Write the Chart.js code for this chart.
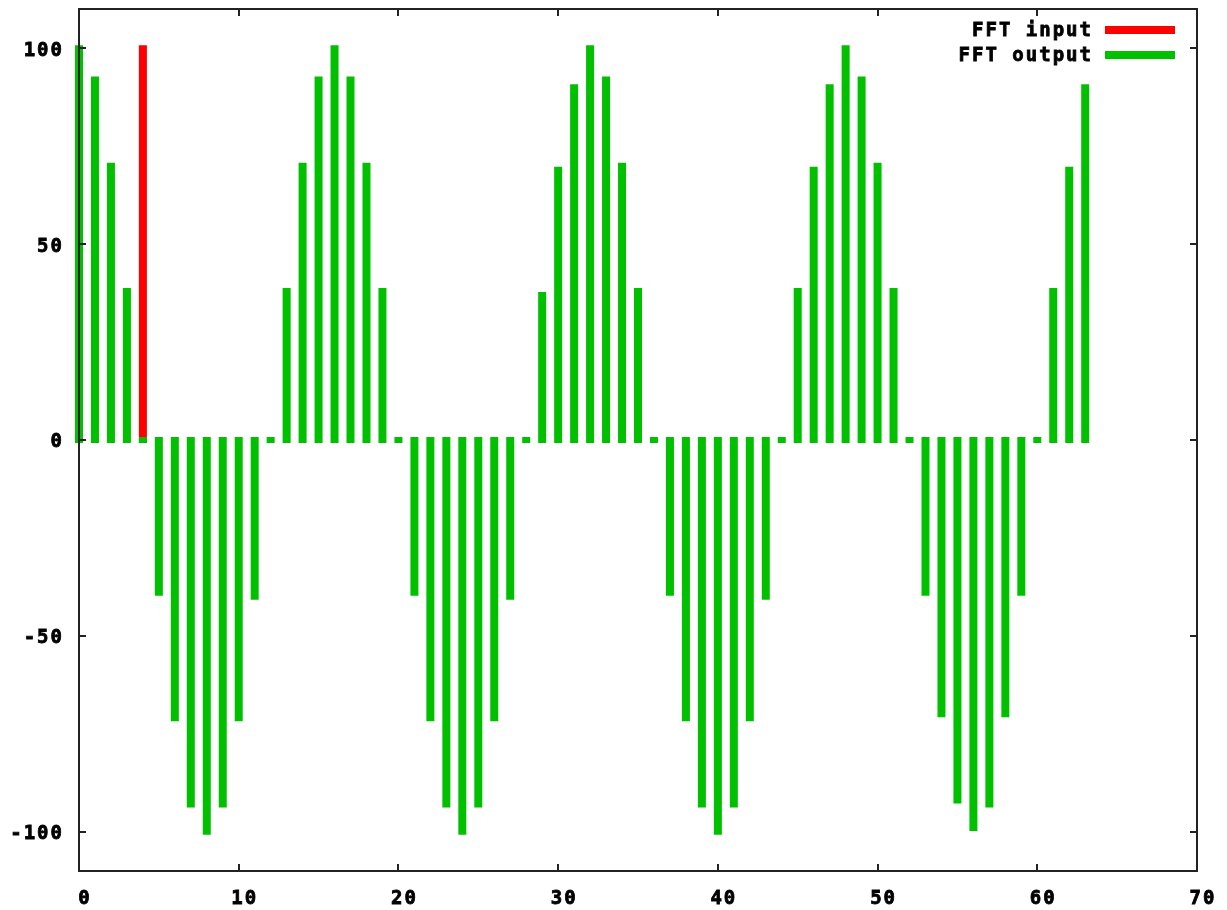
<!DOCTYPE html>
<html>
<head>
<meta charset="utf-8">
<script src="https://cdn.jsdelivr.net/npm/chart.js@4.4.1/dist/chart.umd.min.js"></script>
<style>
html,body{margin:0;padding:0;background:#fff;}
#wrap{width:1227px;height:910px;}
</style>
</head>
<body>
<div id="wrap"><canvas id="c" width="1227" height="910"></canvas></div>
<script>
// ---- data ----
const seriesNames = ['FFT input', 'FFT output'];
const inputX = [4];
const inputY = [100];
const outputX = [0,1,2,3,4,5,6,7,8,9,10,11,12,13,14,15,16,17,18,19,20,21,22,23,24,25,26,27,28,29,30,31,
                 32,33,34,35,36,37,38,39,40,41,42,43,44,45,46,47,48,49,50,51,52,53,54,55,56,57,58,59,60,61,62,63];
const outputY = [100,92,70,38,0,-39,-71,-93,-100,-93,-71,-40,0,38,70,92,
                 100,92,70,38,0,-39,-71,-93,-100,-93,-71,-40,0,37,69,90,
                 100,92,70,38,0,-39,-71,-93,-100,-93,-71,-40,0,38,69,90,
                 100,92,70,38,0,-39,-70,-92,-99,-93,-70,-39,0,38,69,90];
const xTicks = [0,10,20,30,40,50,60,70];
const yTicks = [-100,-50,0,50,100];
const seriesColors = ['#ff0000', '#00c000'];

const FONT = {family: '"DejaVu Sans Mono", "Liberation Mono", monospace', size: 19, weight: 'bold'};
const LS = 2;

const framePlugin = {
  id: 'frame',
  beforeDraw(chart) {
    chart.ctx.letterSpacing = LS + 'px';
  },
  afterDatasetsDraw(chart) {
    const ctx = chart.ctx;
    const a = chart.chartArea;
    const xs = chart.scales.x, ys = chart.scales.y;
    ctx.save();
    ctx.strokeStyle = '#222';
    ctx.lineWidth = 2;
    ctx.beginPath();
    ctx.rect(a.left, a.top, a.right - a.left, a.bottom - a.top);
    ctx.stroke();
    const tl = 7;
    ctx.beginPath();
    xTicks.forEach(v => {
      const p = Math.round(xs.getPixelForValue(v));
      ctx.moveTo(p, a.bottom); ctx.lineTo(p, a.bottom - tl);
      ctx.moveTo(p, a.top); ctx.lineTo(p, a.top + tl);
    });
    yTicks.forEach(v => {
      const p = Math.round(ys.getPixelForValue(v));
      ctx.moveTo(a.left, p); ctx.lineTo(a.left + tl, p);
      ctx.moveTo(a.right, p); ctx.lineTo(a.right - tl, p);
    });
    ctx.stroke();
    // legend
    ctx.font = 'bold 19px "DejaVu Sans Mono", "Liberation Mono", monospace';
    ctx.letterSpacing = LS + 'px';
    ctx.textAlign = 'right';
    ctx.textBaseline = 'middle';
    ctx.fillStyle = '#000';
    chart.data.datasets.forEach((ds, i) => {
      const y = 30 + i * 25;
      ctx.strokeStyle = '#000';
      ctx.lineWidth = 0.8;
      ctx.strokeText(ds.label, 1091 + LS, y + 1);
      ctx.fillText(ds.label, 1091 + LS, y + 1);
      ctx.strokeStyle = ds.backgroundColor;
      ctx.lineWidth = 8;
      ctx.beginPath();
      ctx.moveTo(1105, y); ctx.lineTo(1175, y);
      ctx.stroke();
    });
    ctx.restore();
  }
};

new Chart(document.getElementById('c'), {
  type: 'bar',
  data: {
    datasets: [
      {label: seriesNames[0], data: inputX.map((x, i) => ({x, y: inputY[i]})),
       backgroundColor: seriesColors[0], order: 1},
      {label: seriesNames[1], data: outputX.map((x, i) => ({x, y: outputY[i]})),
       backgroundColor: seriesColors[1], order: 0}
    ]
  },
  options: {
    responsive: false,
    animation: false,
    events: [],
    layout: {padding: {top: 9, right: 30, left: 0, bottom: 0}},
    datasets: {bar: {grouped: false, maxBarThickness: 2, inflateAmount: 3, clip: false, borderWidth: 0}},
    plugins: {legend: {display: false}, tooltip: {enabled: false}},
    scales: {
      x: {
        type: 'linear', min: 0, max: 70, offset: false,
        grid: {display: false, drawTicks: false},
        border: {display: false},
        afterBuildTicks: s => { s.ticks = xTicks.map(v => ({value: v})); },
        afterFit: s => { s.height = 39; s.paddingLeft = 0; s.paddingRight = 0; },
        ticks: {font: FONT, color: '#000', padding: 17, labelOffset: 5 + LS / 2, maxRotation: 0, autoSkip: false,
                textStrokeColor: '#000', textStrokeWidth: 0.8}
      },
      y: {
        type: 'linear', min: -110, max: 110,
        grid: {display: false, drawTicks: false},
        border: {display: false},
        afterBuildTicks: s => { s.ticks = yTicks.map(v => ({value: v})); },
        afterFit: s => { s.width = 79; s.paddingTop = 0; s.paddingBottom = 0; },
        ticks: {font: FONT, color: '#000', padding: 17 - LS, labelOffset: 2.5,
                textStrokeColor: '#000', textStrokeWidth: 0.8}
      }
    }
  },
  plugins: [framePlugin]
});
</script>
</body>
</html>
